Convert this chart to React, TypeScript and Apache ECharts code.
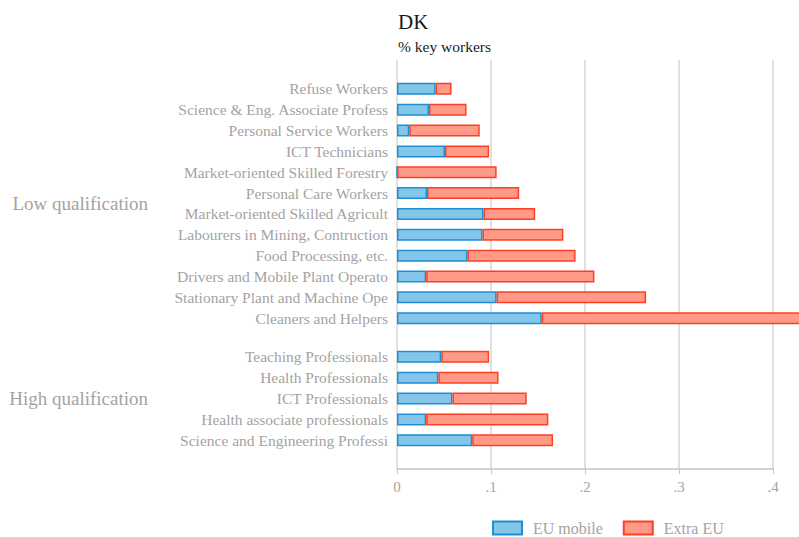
import React, { useEffect, useRef } from "react";
import * as echarts from "echarts";

const lowCategories = [
  "Refuse Workers",
  "Science & Eng. Associate Profess",
  "Personal Service Workers",
  "ICT Technicians",
  "Market-oriented Skilled Forestry",
  "Personal Care Workers",
  "Market-oriented Skilled Agricult",
  "Labourers in Mining, Contruction",
  "Food Processing, etc.",
  "Drivers and Mobile Plant Operato",
  "Stationary Plant and Machine Ope",
  "Cleaners and Helpers",
];
const lowEUMobile = [0.041, 0.034, 0.013, 0.051, 0, 0.032, 0.092, 0.091, 0.075, 0.031, 0.106, 0.154];
const lowExtraEU = [0.017, 0.040, 0.075, 0.047, 0.106, 0.098, 0.055, 0.086, 0.115, 0.179, 0.159, 0.291];

const highCategories = [
  "Teaching Professionals",
  "Health Professionals",
  "ICT Professionals",
  "Health associate professionals",
  "Science and Engineering Professi",
];
const highEUMobile = [0.047, 0.044, 0.059, 0.031, 0.080];
const highExtraEU = [0.051, 0.064, 0.079, 0.130, 0.086];

const groupLabels = ["Low qualification", "High qualification"];
const xTickLabels = ["0", ".1", ".2", ".3", ".4"];
const seriesNames = ["EU mobile", "Extra EU"];
const titleText = "DK";
const subtitleText = "% key workers";

const FONT = "Liberation Serif";
const GRAY = "#a3a3a3";
const BLUE_FILL = "#84c6ea";
const BLUE_LINE = "#1d8fd3";
const RED_FILL = "#ff9a88";
const RED_LINE = "#ff3f1f";

export default function App() {
  const ref = useRef<HTMLDivElement>(null);
  useEffect(() => {
    if (!ref.current) return;
    const chart = echarts.init(ref.current, null, { renderer: "svg" });
    const left = 397;
    const right = 26;
    const band = 20.85;
    const g1Top = 78.4;
    const g1H = band * lowCategories.length;
    const g2Top = 346.4;
    const g2H = band * highCategories.length;

    const hiddenX = (gridIndex: number) => ({
      type: "value",
      gridIndex,
      min: 0,
      max: 0.4,
      show: false,
      splitLine: { show: false },
    });
    const catY = (gridIndex: number, data: string[]) => ({
      type: "category",
      gridIndex,
      data,
      inverse: true,
      axisLine: { show: false },
      axisTick: { show: false },
      axisLabel: { color: GRAY, fontSize: 15.5, fontFamily: FONT, margin: 9 },
    });
    const bar = (name: string, xi: number, data: number[], fill: string, line: string) => ({
      name,
      type: "bar",
      stack: "s" + xi,
      xAxisIndex: xi,
      yAxisIndex: xi,
      data,
      barWidth: 12,
      clip: false,
      itemStyle: { color: fill, borderColor: line, borderWidth: 1.5 },
      emphasis: { disabled: true },
    });
    const groupText = (text: string, y: number) => ({
      type: "text",
      x: 148,
      y,
      style: { text, align: "right", verticalAlign: "middle", fill: GRAY, fontSize: 19, fontFamily: FONT },
    });

    chart.setOption({
      animation: false,
      backgroundColor: "#ffffff",
      legend: {
        data: seriesNames,
        left: 487,
        top: 515,
        itemWidth: 29,
        itemHeight: 13,
        itemGap: 20,
        icon: "rect",
        textStyle: { color: GRAY, fontSize: 16, fontFamily: FONT, padding: [0, 0, 0, 6] },
      },
      grid: [
        { left, right, top: 60, bottom: 68 },
        { left, right, top: g1Top, height: g1H },
        { left, right, top: g2Top, height: g2H },
      ],
      xAxis: [
        {
          type: "value",
          gridIndex: 0,
          min: 0,
          max: 0.4,
          interval: 0.1,
          axisLine: { show: true, lineStyle: { color: "#c4c4c4", width: 1.5 } },
          axisTick: { show: true, length: 5, lineStyle: { color: "#c4c4c4" } },
          axisLabel: {
            color: GRAY,
            fontSize: 15,
            fontFamily: FONT,
            margin: 10,
            formatter: (v: number) => xTickLabels[Math.round(v / 0.1)] ?? "",
          },
          splitLine: { show: true, lineStyle: { color: "#d6d6d6", width: 1.5 } },
        },
        hiddenX(1),
        hiddenX(2),
      ],
      yAxis: [
        { type: "value", gridIndex: 0, show: false, splitLine: { show: false } },
        catY(1, lowCategories),
        catY(2, highCategories),
      ],
      graphic: [
        {
          type: "text",
          x: 398,
          y: 11,
          style: { text: titleText, align: "left", verticalAlign: "top", fill: "#1a1a1a", fontSize: 21, fontFamily: FONT },
        },
        {
          type: "text",
          x: 398,
          y: 38,
          style: { text: subtitleText, align: "left", verticalAlign: "top", fill: "#1a1a1a", fontSize: 15.5, fontFamily: FONT },
        },
        groupText(groupLabels[0], g1Top + g1H / 2),
        groupText(groupLabels[1], g2Top + g2H / 2),
      ],
      series: [
        bar(seriesNames[0], 1, lowEUMobile, BLUE_FILL, BLUE_LINE),
        bar(seriesNames[1], 1, lowExtraEU, RED_FILL, RED_LINE),
        bar(seriesNames[0], 2, highEUMobile, BLUE_FILL, BLUE_LINE),
        bar(seriesNames[1], 2, highExtraEU, RED_FILL, RED_LINE),
      ],
    });
    return () => chart.dispose();
  }, []);
  return (
    <div
      ref={ref}
      style={{ position: "fixed", left: 0, top: 0, width: 799, height: 537, overflow: "hidden" }}
    />
  );
}
